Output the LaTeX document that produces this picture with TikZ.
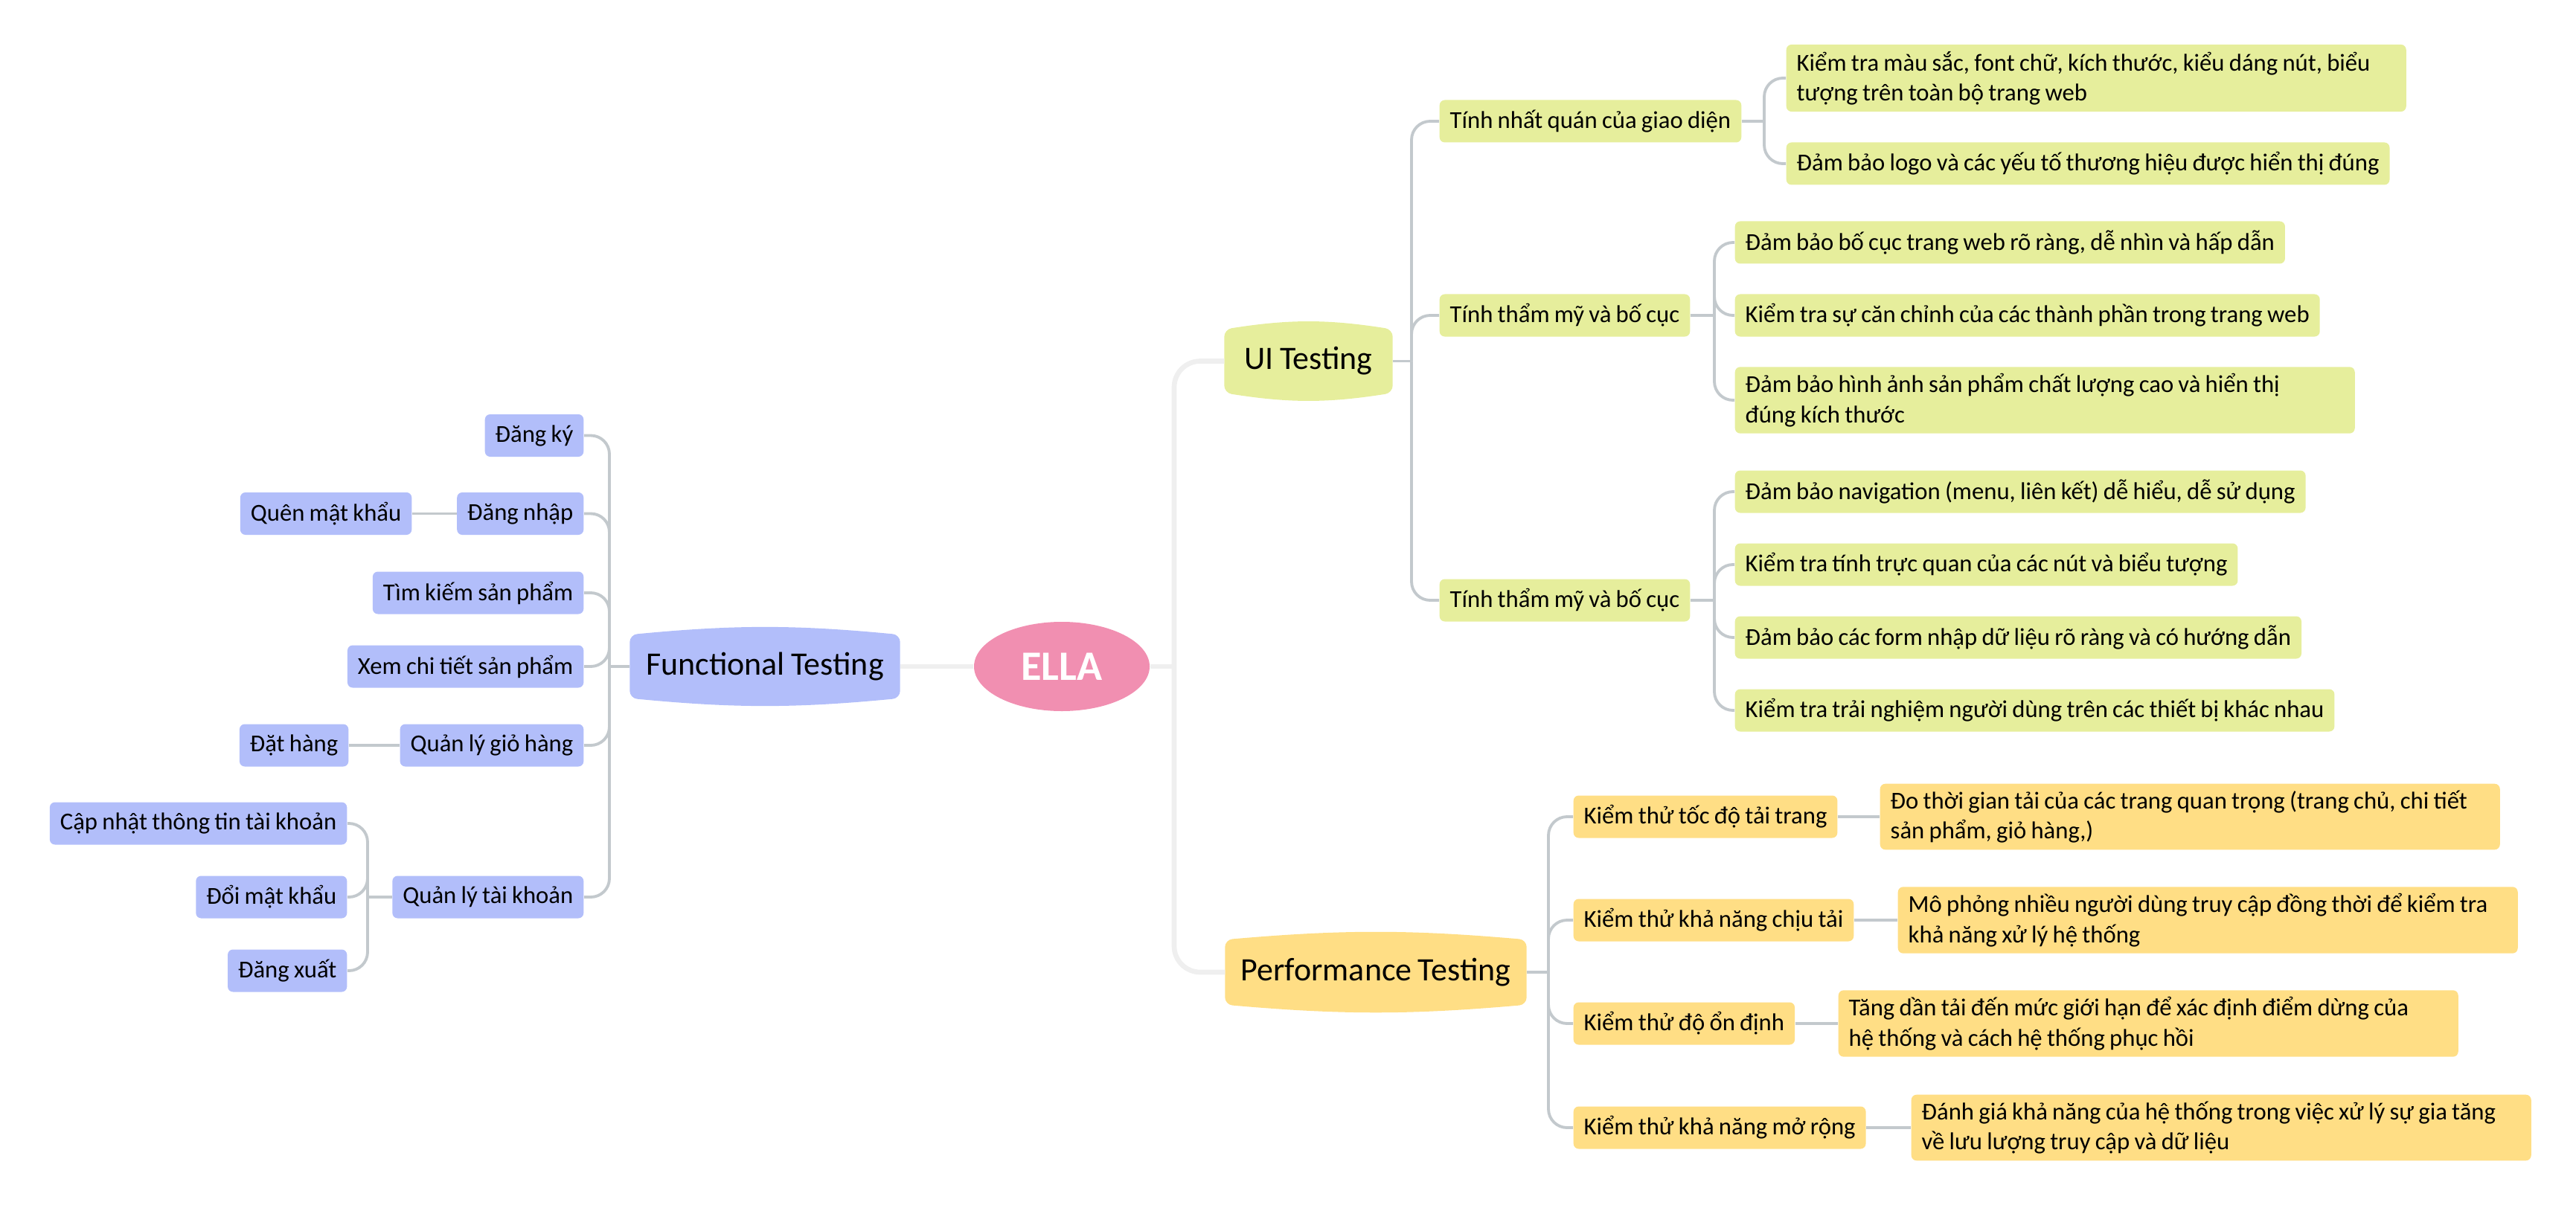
\documentclass[tikz,border=0pt]{standalone}
\usepackage{fontspec}
\setmainfont{Carlito}[WordSpace=0.85]
\usetikzlibrary{backgrounds,shapes.geometric}

\definecolor{uicolor}{HTML}{E6EE9C}
\definecolor{perfcolor}{HTML}{FFDE85}
\definecolor{funccolor}{HTML}{B2BEFA}
\definecolor{ellacolor}{HTML}{F18FB1}
\definecolor{linkgray}{HTML}{C3C9CD}
\definecolor{maingray}{HTML}{EFEFEF}

\tikzset{
  leaf/.style={rounded corners=0.07cm, inner xsep=0.14cm, inner ysep=0.09cm, minimum height=0.57cm, font=\fontsize{9.3}{11.5}\selectfont, align=left},
  uileaf/.style={leaf, fill=uicolor},
  perfleaf/.style={leaf, fill=perfcolor},
  funcleaf/.style={leaf, fill=funccolor},
  twoline/.style={text width=8.05cm, align=flush left},
  topic/.style={minimum height=1.04cm, inner sep=0pt, font=\fontsize{12.5}{14}\selectfont},
  link/.style={draw=linkgray, line width=1.1pt, rounded corners=0.25cm},
  mainlink/.style={draw=maingray, line width=1.9pt, rounded corners=0.35cm}
}

% bulged box behind a main topic: node, colour, bend
\newcommand{\topicshape}[3]{%
  \begin{pgfonlayer}{background}
  \fill[#2, rounded corners=0.1cm] ([yshift=-0.1cm]#1.north west) to[bend left=#3] ([yshift=-0.1cm]#1.north east)
    -- ([yshift=0.1cm]#1.south east) to[bend left=#3] ([yshift=0.1cm]#1.south west) -- cycle;
  \end{pgfonlayer}}

\begin{document}
\begin{tikzpicture}
\useasboundingbox (0,0) rectangle (34.62,-16.20);

% centre
\node[ellipse, fill=ellacolor, minimum width=2.36cm, minimum height=1.2cm, inner sep=0pt, text=white, font=\fontsize{16}{18}\selectfont\bfseries] (ella) at (14.27,-8.96) {ELLA};

% main topics
\node[topic, minimum width=2.25cm] (ui) at (17.585,-4.855) {UI Testing};
\node[topic, minimum width=3.62cm] (func) at (10.28,-8.96) {Functional Testing};
\node[topic, minimum width=4.04cm, minimum height=1.06cm] (perf) at (18.49,-13.07) {Performance Testing};
\topicshape{ui}{uicolor}{9}
\topicshape{func}{funccolor}{5.5}
\topicshape{perf}{perfcolor}{5}

% UI Testing
\node[uileaf, anchor=west] (ui1) at (19.34,-1.63) {Tính nhất quán của giao diện};
\node[uileaf, anchor=west] (ui2) at (19.34,-4.24) {Tính thẩm mỹ và bố cục};
\node[uileaf, anchor=west] (ui3) at (19.34,-8.07) {Tính thẩm mỹ và bố cục};

\node[uileaf, twoline, anchor=west] (ui11) at (24.00,-1.05) {\mbox{Kiểm tra màu sắc, font chữ, kích thước, kiểu dáng nút, biểu}\\tượng trên toàn bộ trang web};
\node[uileaf, anchor=west] (ui12) at (24.00,-2.20) {Đảm bảo logo và các yếu tố thương hiệu được hiển thị đúng};

\node[uileaf, anchor=west] (ui21) at (23.31,-3.26) {Đảm bảo bố cục trang web rõ ràng, dễ nhìn và hấp dẫn};
\node[uileaf, anchor=west] (ui22) at (23.31,-4.24) {Kiểm tra sự căn chỉnh của các thành phần trong trang web};
\node[uileaf, twoline, anchor=west] (ui23) at (23.31,-5.38) {\mbox{Đảm bảo hình ảnh sản phẩm chất lượng cao và hiển thị}\\đúng kích thước};

\node[uileaf, anchor=west] (ui31) at (23.31,-6.61) {Đảm bảo navigation (menu, liên kết) dễ hiểu, dễ sử dụng};
\node[uileaf, anchor=west] (ui32) at (23.31,-7.59) {Kiểm tra tính trực quan của các nút và biểu tượng};
\node[uileaf, anchor=west] (ui33) at (23.31,-8.57) {Đảm bảo các form nhập dữ liệu rõ ràng và có hướng dẫn};
\node[uileaf, anchor=west] (ui34) at (23.31,-9.55) {Kiểm tra trải nghiệm người dùng trên các thiết bị khác nhau};

% Performance Testing
\node[perfleaf, anchor=west] (perf1) at (21.14,-10.98) {Kiểm thử tốc độ tải trang};
\node[perfleaf, anchor=west] (perf2) at (21.14,-12.37) {Kiểm thử khả năng chịu tải};
\node[perfleaf, anchor=west] (perf3) at (21.14,-13.76) {Kiểm thử độ ổn định};
\node[perfleaf, anchor=west] (perf4) at (21.14,-15.16) {Kiểm thử khả năng mở rộng};

\node[perfleaf, twoline, anchor=west] (perf11) at (25.26,-10.98) {\mbox{Đo thời gian tải của các trang quan trọng (trang chủ, chi tiết}\\sản phẩm, giỏ hàng,)};
\node[perfleaf, twoline, anchor=west] (perf21) at (25.50,-12.37) {\mbox{Mô phỏng nhiều người dùng truy cập đồng thời để kiểm tra}\\khả năng xử lý hệ thống};
\node[perfleaf, twoline, anchor=west] (perf31) at (24.70,-13.76) {\mbox{Tăng dần tải đến mức giới hạn để xác định điểm dừng của}\\hệ thống và cách hệ thống phục hồi};
\node[perfleaf, twoline, anchor=west] (perf41) at (25.68,-15.16) {\mbox{Đánh giá khả năng của hệ thống trong việc xử lý sự gia tăng}\\về lưu lượng truy cập và dữ liệu};

% Functional Testing
\node[funcleaf, anchor=east] (func1) at (7.85,-5.855) {Đăng ký};
\node[funcleaf, anchor=east] (func2) at (7.85,-6.905) {Đăng nhập};
\node[funcleaf, anchor=east] (func3) at (7.85,-7.97) {Tìm kiếm sản phẩm};
\node[funcleaf, anchor=east] (func4) at (7.85,-8.96) {Xem chi tiết sản phẩm};
\node[funcleaf, anchor=east] (func5) at (7.85,-10.02) {Quản lý giỏ hàng};
\node[funcleaf, anchor=east] (func6) at (7.85,-12.06) {Quản lý tài khoản};

\node[funcleaf, anchor=east] (func21) at (5.54,-6.905) {Quên mật khẩu};
\node[funcleaf, anchor=east] (func51) at (4.69,-10.02) {Đặt hàng};
\node[funcleaf, anchor=east] (func61) at (4.67,-11.07) {Cập nhật thông tin tài khoản};
\node[funcleaf, anchor=east] (func62) at (4.67,-12.06) {Đổi mật khẩu};
\node[funcleaf, anchor=east] (func63) at (4.67,-13.05) {Đăng xuất};

% joints
\coordinate (mainjoint) at (15.78,-8.96);
\coordinate (uijoint) at (18.97,-4.855);
\coordinate (ui1joint) at (23.71,-1.63);
\coordinate (ui2joint) at (23.04,-4.24);
\coordinate (ui3joint) at (23.04,-8.07);
\coordinate (perfjoint) at (20.81,-13.07);
\coordinate (funcjoint) at (8.19,-8.96);
\coordinate (func6joint) at (4.94,-12.06);

% main links
\draw[mainlink] (ella.east) -- (mainjoint);
\draw[mainlink] (mainjoint) |- (ui.west);
\draw[mainlink] (mainjoint) |- (perf.west);
\draw[mainlink] (ella.west) -- (func.east);

% UI links
\draw[link] (ui.east) -- (uijoint);
\draw[link] (uijoint) |- (ui1.west);
\draw[link] (uijoint) |- (ui2.west);
\draw[link] (uijoint) |- (ui3.west);
\draw[link] (ui1.east) -- (ui1joint);
\draw[link] (ui1joint) |- (ui11.west);
\draw[link] (ui1joint) |- (ui12.west);
\draw[link] (ui2.east) -- (ui2joint);
\draw[link] (ui2joint) |- (ui21.west);
\draw[link] (ui2joint) |- (ui22.west);
\draw[link] (ui2joint) |- (ui23.west);
\draw[link] (ui3.east) -- (ui3joint);
\draw[link] (ui3joint) |- (ui31.west);
\draw[link] (ui3joint) |- (ui32.west);
\draw[link] (ui3joint) |- (ui33.west);
\draw[link] (ui3joint) |- (ui34.west);

% performance links
\draw[link] (perf.east) -- (perfjoint);
\draw[link] (perfjoint) |- (perf1.west);
\draw[link] (perfjoint) |- (perf2.west);
\draw[link] (perfjoint) |- (perf3.west);
\draw[link] (perfjoint) |- (perf4.west);
\draw[link] (perf1.east) -- (perf11.west);
\draw[link] (perf2.east) -- (perf21.west);
\draw[link] (perf3.east) -- (perf31.west);
\draw[link] (perf4.east) -- (perf41.west);

% functional links
\draw[link] (func.west) -- (funcjoint);
\draw[link] (funcjoint) |- (func1.east);
\draw[link] (funcjoint) |- (func2.east);
\draw[link] (funcjoint) |- (func3.east);
\draw[link] (funcjoint) |- (func4.east);
\draw[link] (funcjoint) |- (func5.east);
\draw[link] (funcjoint) |- (func6.east);
\draw[link] (func2.west) -- (func21.east);
\draw[link] (func5.west) -- (func51.east);
\draw[link] (func6.west) -- (func6joint);
\draw[link] (func6joint) |- (func61.east);
\draw[link] (func6joint) |- (func62.east);
\draw[link] (func6joint) |- (func63.east);

\end{tikzpicture}
\end{document}
